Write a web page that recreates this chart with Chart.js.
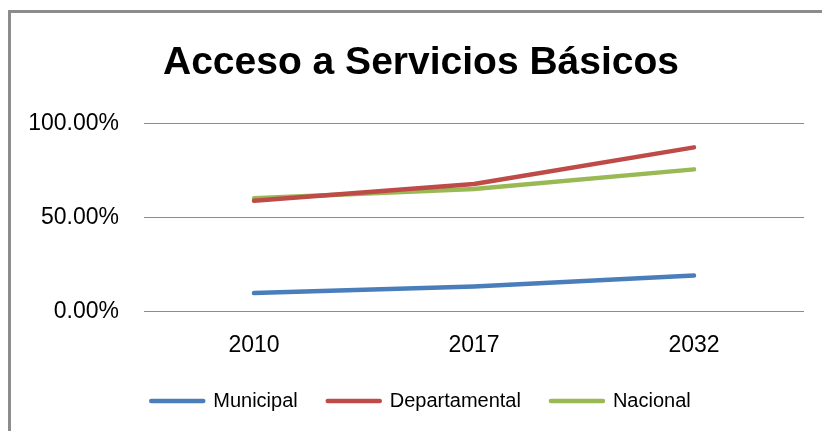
<!DOCTYPE html>
<html>
<head>
<meta charset="utf-8">
<script src="https://cdn.jsdelivr.net/npm/chart.js@4"></script>
<style>
  html, body { margin: 0; padding: 0; background: #fff; }
  #wrap { position: relative; width: 822px; height: 431px; overflow: hidden; }
  #frame { position: absolute; left: 8px; top: 10px; width: 900px; height: 500px;
           border-left: 3px solid #8c8c8c; border-top: 3px solid #8c8c8c; }
  canvas { position: absolute; left: 0; top: 0; }
</style>
</head>
<body>
<div id="wrap">
  <div id="frame"></div>
  <canvas id="chart" width="822" height="431"></canvas>
</div>
<script>
// --- datos ---
const years = ["2010", "2017", "2032"];
const municipal = [9.8, 13.3, 19.1];
const departamental = [58.9, 67.8, 87.3];
const nacional = [60.2, 65.1, 75.6];
const yTicks = [0, 50, 100];

const colores = ["#4a7ebb", "#be4b48", "#98b954"];

const ctx = document.getElementById("chart").getContext("2d");
const chart = new Chart(ctx, {
  type: "line",
  data: {
    labels: years,
    datasets: [
      { label: "Municipal", data: municipal, borderColor: colores[0], backgroundColor: colores[0] },
      { label: "Departamental", data: departamental, borderColor: colores[1], backgroundColor: colores[1] },
      { label: "Nacional", data: nacional, borderColor: colores[2], backgroundColor: colores[2] }
    ]
  },
  options: {
    responsive: false,
    animation: false,
    elements: {
      line: { borderWidth: 4.5, tension: 0, borderCapStyle: "round", borderJoinStyle: "round" },
      point: { radius: 0, hoverRadius: 0 }
    },
    layout: { padding: { top: 8, left: 20, right: 0, bottom: 10 } },
    scales: {
      x: {
        offset: true,
        grid: { display: false, drawTicks: false },
        border: { display: false },
        ticks: { color: "#000", padding: 20, font: { family: "Liberation Sans", size: 23 } },
        afterFit: (s) => { s.height = 49.5; }
      },
      y: {
        min: 0,
        max: 100,
        afterBuildTicks: (s) => { s.ticks = yTicks.map(v => ({ value: v })); },
        grid: { color: "#8c8c8c", lineWidth: 1, drawTicks: false },
        border: { display: false },
        ticks: {
          color: "#000",
          padding: 25,
          font: { family: "Liberation Sans", size: 23 },
          callback: (v) => v.toFixed(2) + "%"
        },
        afterFit: (s) => { s.width = 124; }
      },
      // eje vacío a la derecha, solo para dejar el margen
      yDer: {
        position: "right",
        grid: { display: false, drawTicks: false },
        border: { display: false },
        ticks: { display: false },
        afterFit: (s) => { s.width = 18; }
      }
    },
    plugins: {
      title: {
        display: true,
        text: "Acceso a Servicios Básicos",
        color: "#000",
        font: { family: "Liberation Sans", size: 39, weight: "bold" },
        padding: { top: 32, bottom: 36.7 }
      },
      legend: {
        position: "bottom",
        labels: {
          color: "#000",
          font: { family: "Liberation Sans", size: 20 },
          usePointStyle: true,
          pointStyleWidth: 52,
          padding: 30,
          generateLabels: (c) => c.data.datasets.map((ds, i) => ({
            text: ds.label,
            strokeStyle: colores[i],
            fillStyle: colores[i],
            lineWidth: 4.5,
            lineCap: "round",
            pointStyle: "line",
            hidden: false,
            datasetIndex: i
          }))
        }
      },
      tooltip: { enabled: false }
    }
  }
});
</script>
</body>
</html>
